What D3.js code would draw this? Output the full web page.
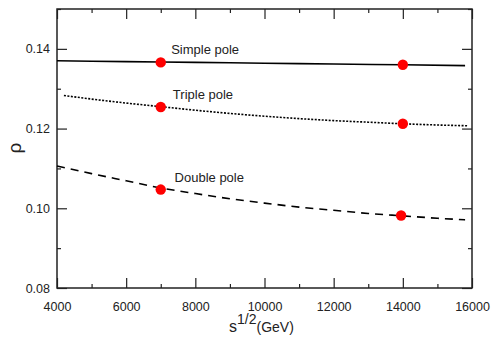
<!DOCTYPE html>
<html>
<head>
<meta charset="utf-8">
<script src="https://cdn.jsdelivr.net/npm/d3@7"></script>
<style>
  body { margin: 0; background: #fff; }
  svg { display: block; font-family: "Liberation Sans", Arial, sans-serif; }
</style>
</head>
<body>
<svg width="494" height="338"></svg>
<script>
var svg = d3.select("svg");

// curves (sqrt(s) in GeV, rho)
var simpleX = [4000, 6000, 8000, 10000, 12000, 14000, 15800];
var simpleY = [0.1370, 0.1368, 0.1366, 0.1364, 0.1362, 0.1360, 0.1358];

var tripleX = [4200, 5000, 6000, 7000, 8000, 9000, 10000, 11000, 12000, 13000, 14000, 15000, 15900];
var tripleY = [0.1283, 0.1274, 0.1264, 0.1255, 0.1246, 0.1238, 0.1231, 0.1225, 0.1220, 0.1216, 0.1212, 0.1209, 0.1207];

var doubleX = [4000, 5000, 6000, 7000, 8000, 9000, 10000, 11000, 12000, 13000, 14000, 15000, 15800];
var doubleY = [0.1106, 0.1087, 0.1069, 0.1051, 0.1037, 0.1024, 0.1013, 0.1003, 0.0995, 0.0987, 0.0981, 0.0975, 0.0971];

// red points
var pointX = [7000, 7000, 7000, 14000, 14000, 13950];
var pointY = [0.1366, 0.1254, 0.1047, 0.1360, 0.1212, 0.0982];

var labels = ["Simple pole", "Triple pole", "Double pole"];
var labelX = [7300, 7350, 7400];
var labelY = [0.1388, 0.1275, 0.1066];

var xTicks = [4000, 6000, 8000, 10000, 12000, 14000, 16000];
var xMinor = [5000, 7000, 9000, 11000, 13000, 15000];
var yTicks = [0.08, 0.10, 0.12, 0.14];
var yMinor = [0.09, 0.11, 0.13, 0.15];

var margin = {left: 57, top: 9, right: 22, bottom: 50},
    w = 494 - margin.left - margin.right,
    h = 338 - margin.top - margin.bottom;

var x = d3.scaleLinear().domain([4000, 16000]).range([0, w]);
var y = d3.scaleLinear().domain([0.08, 0.15]).range([h, 0]);

var g = svg.append("g").attr("transform", "translate(" + margin.left + "," + margin.top + ")");

function style(a) {
    a.select(".domain").remove();
    a.selectAll("line").attr("stroke", "#222").attr("stroke-width", 1.2);
    a.selectAll("text").attr("font-size", "12.5px").attr("fill", "#222")
        .attr("font-family", "'Liberation Sans', Arial, sans-serif");
}

// bottom
g.append("g").attr("transform", "translate(0," + h + ")")
    .call(d3.axisBottom(x).tickValues(xTicks).tickSizeInner(-10).tickSizeOuter(0).tickPadding(14).tickFormat(d3.format("d")))
    .call(style);
g.append("g").attr("transform", "translate(0," + h + ")")
    .call(d3.axisBottom(x).tickValues(xMinor).tickSize(-4).tickFormat(""))
    .call(style);
// top
g.append("g")
    .call(d3.axisTop(x).tickValues(xTicks).tickSize(-10).tickFormat(""))
    .call(style);
g.append("g")
    .call(d3.axisTop(x).tickValues(xMinor).tickSize(-4).tickFormat(""))
    .call(style);
// left
g.append("g")
    .call(d3.axisLeft(y).tickValues(yTicks).tickSizeInner(-10).tickSizeOuter(0).tickPadding(7).tickFormat(d3.format(".2f")))
    .call(style);
g.append("g")
    .call(d3.axisLeft(y).tickValues(yMinor).tickSize(-4).tickFormat(""))
    .call(style);
// right
g.append("g").attr("transform", "translate(" + w + ",0)")
    .call(d3.axisRight(y).tickValues(yTicks).tickSize(-10).tickFormat(""))
    .call(style);
g.append("g").attr("transform", "translate(" + w + ",0)")
    .call(d3.axisRight(y).tickValues(yMinor).tickSize(-4).tickFormat(""))
    .call(style);

// frame
g.append("rect").attr("width", w).attr("height", h)
    .attr("fill", "none").attr("stroke", "#222").attr("stroke-width", 1.5);

var line = d3.line()
    .x(function(d) { return x(d[0]); })
    .y(function(d) { return y(d[1]); })
    .curve(d3.curveMonotoneX);

function pairs(xs, ys) {
    return xs.map(function(v, i) { return [v, ys[i]]; });
}

g.append("path").datum(pairs(simpleX, simpleY))
    .attr("d", line).attr("fill", "none").attr("stroke", "#000").attr("stroke-width", 1.6);
g.append("path").datum(pairs(tripleX, tripleY))
    .attr("d", line).attr("fill", "none").attr("stroke", "#000").attr("stroke-width", 1.6)
    .attr("stroke-dasharray", "2,1.5");
g.append("path").datum(pairs(doubleX, doubleY))
    .attr("d", line).attr("fill", "none").attr("stroke", "#000").attr("stroke-width", 1.6)
    .attr("stroke-dasharray", "8,6");

g.selectAll("circle")
    .data(pairs(pointX, pointY))
    .enter()
    .append("circle")
    .attr("cx", function(d) { return x(d[0]); })
    .attr("cy", function(d) { return y(d[1]); })
    .attr("r", 5.2)
    .attr("fill", "#ff0000");

g.selectAll("text.lbl")
    .data(labels)
    .enter()
    .append("text")
    .attr("class", "lbl")
    .attr("x", function(d, i) { return x(labelX[i]); })
    .attr("y", function(d, i) { return y(labelY[i]); })
    .attr("font-size", "13px")
    .attr("fill", "#222")
    .text(function(d) { return d; });

// axis titles
svg.append("text")
    .attr("transform", "translate(21,148) rotate(-90)")
    .attr("text-anchor", "middle")
    .attr("font-size", "19px")
    .attr("fill", "#222")
    .text("ρ");

var xt = svg.append("text")
    .attr("x", 229).attr("y", 332)
    .attr("fill", "#222");
xt.append("tspan").attr("font-size", "16px").text("s");
xt.append("tspan").attr("font-size", "14px").attr("dy", -8).text("1/2");
xt.append("tspan").attr("font-size", "14px").attr("dy", 8).text("(GeV)");
</script>
</body>
</html>
